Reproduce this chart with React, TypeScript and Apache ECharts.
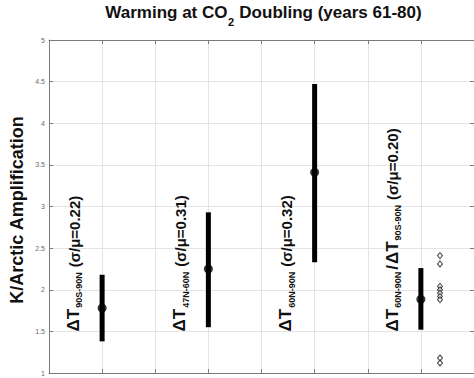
import React, { useEffect, useRef } from "react";
import * as echarts from "echarts";

// ---- data ----
const xPositions = [1, 3, 5, 7];
const means = [1.78, 2.25, 3.41, 1.885];
const lows = [1.38, 1.55, 2.33, 1.52];
const highs = [2.18, 2.93, 4.47, 2.26];
const labelSubscripts = [["90S-90N"], ["47N-60N"], ["60N-90N"], ["60N-90N", "90S-90N"]];
const sigmaOverMu = [0.22, 0.31, 0.32, 0.2];
const diamondX = 7.36;
const diamondValues = [2.41, 2.31, 2.04, 2.0, 1.96, 1.92, 1.88, 1.18, 1.12];
const yTicks = [1, 1.5, 2, 2.5, 3, 3.5, 4, 4.5, 5];
const titleParts = ["Warming at CO", "2", " Doubling (years 61-80)"];
const yName = "K/Arctic Amplification";

const FONT = '"Liberation Sans", Arial, Helvetica, sans-serif';
const W = 474;
const H = 378;

let ctx: CanvasRenderingContext2D | null = null;
function measure(text: string, size: number, weight = "bold") {
  if (!ctx) ctx = document.createElement("canvas").getContext("2d");
  if (!ctx) return text.length * size * 0.55;
  ctx.font = `${weight} ${size}px ${FONT}`;
  return ctx.measureText(text).width;
}

const MAIN = 17;
const SUB = 9;
const PAREN = 15;

function buildSegments(i: number) {
  const segs: { text: string; size: number; dy: number; gap: number }[] = [];
  labelSubscripts[i].forEach((s, k) => {
    if (k > 0) segs.push({ text: "/", size: MAIN, dy: -0.35 * MAIN, gap: 1 });
    segs.push({ text: "ΔT", size: MAIN, dy: -0.35 * MAIN, gap: 1 });
    segs.push({ text: s, size: SUB, dy: 0, gap: 2 });
  });
  segs[segs.length - 1].gap = 5;
  segs.push({ text: `(σ/μ=${sigmaOverMu[i].toFixed(2)})`, size: PAREN, dy: -0.35 * PAREN, gap: 0 });
  return segs;
}

export default function App() {
  const ref = useRef<HTMLDivElement>(null);
  useEffect(() => {
    document.body.style.margin = "0";
    if (!ref.current) return;
    const chart = echarts.init(ref.current, null, { renderer: "svg" });

    const gridLeft = 49;
    const gridTop = 40;
    const gridWidth = 429;
    const gridHeight = 333;

    // title layout
    const tSize = 17;
    const w0 = measure(titleParts[0], tSize);
    const w1 = measure(titleParts[1], 11);
    const w2 = measure(titleParts[2], tSize);
    const total = w0 + w1 + w2 + 1;
    const tStart = gridLeft + gridWidth / 2 - total / 2;
    const tY = 21;

    const axisColor = "#7a7a7a";
    const gridColor = "#e4e4e4";

    chart.setOption({
      animation: false,
      grid: { left: gridLeft, top: gridTop, width: gridWidth, height: gridHeight, containLabel: false },
      xAxis: [
        {
          type: "value", min: 0, max: 8, interval: 1, position: "bottom",
          axisLine: { show: true, lineStyle: { color: axisColor, width: 1 } },
          axisTick: { show: true, inside: true, length: 4, lineStyle: { color: axisColor } },
          axisLabel: { show: false },
          splitLine: { show: true, lineStyle: { color: gridColor, width: 1 } },
        },
        {
          type: "value", min: 0, max: 8, interval: 1, position: "top",
          axisLine: { show: true, onZero: false, lineStyle: { color: axisColor, width: 1 } },
          axisTick: { show: true, inside: true, length: 4, lineStyle: { color: axisColor } },
          axisLabel: { show: false },
          splitLine: { show: false },
        },
      ],
      yAxis: [
        {
          type: "value", min: 1, max: 5, interval: 0.5, position: "left",
          axisLine: { show: true, onZero: false, lineStyle: { color: axisColor, width: 1 } },
          axisTick: { show: true, inside: true, length: 4, lineStyle: { color: axisColor } },
          axisLabel: {
            show: true, fontSize: 7, color: "#6a6a6a", fontFamily: FONT, margin: 4,
            formatter: (v: number) => (yTicks.includes(v) ? String(v) : ""),
          },
          splitLine: { show: true, lineStyle: { color: gridColor, width: 1 } },
        },
        {
          type: "value", min: 1, max: 5, interval: 0.5, position: "right",
          axisLine: { show: true, onZero: false, lineStyle: { color: axisColor, width: 1 } },
          axisTick: { show: true, inside: true, length: 4, lineStyle: { color: axisColor } },
          axisLabel: { show: false },
          splitLine: { show: false },
        },
      ],
      graphic: [
        { type: "text", x: tStart, y: tY, style: { text: titleParts[0], font: `bold ${tSize}px ${FONT}`, fill: "#111", textAlign: "left", textVerticalAlign: "bottom" } },
        { type: "text", x: tStart + w0 + 0.5, y: tY + 6, style: { text: titleParts[1], font: `bold 11px ${FONT}`, fill: "#111", textAlign: "left", textVerticalAlign: "bottom" } },
        { type: "text", x: tStart + w0 + w1 + 1, y: tY, style: { text: titleParts[2], font: `bold ${tSize}px ${FONT}`, fill: "#111", textAlign: "left", textVerticalAlign: "bottom" } },
        { type: "text", x: 17, y: 210, rotation: Math.PI / 2, style: { text: yName, font: `bold 18px ${FONT}`, fill: "#111", textAlign: "center", textVerticalAlign: "middle" } },
      ],
      series: [
        {
          type: "custom",
          name: "range",
          data: xPositions.map((x, i) => [x, lows[i], highs[i]]),
          renderItem: (params: any, api: any) => {
            const p1 = api.coord([api.value(0), api.value(1)]);
            const p2 = api.coord([api.value(0), api.value(2)]);
            return {
              type: "line",
              shape: { x1: p1[0], y1: p1[1], x2: p2[0], y2: p2[1] },
              style: { stroke: "#000", lineWidth: 5, lineCap: "butt" },
            };
          },
          z: 3,
        },
        {
          type: "scatter",
          name: "mean",
          data: xPositions.map((x, i) => [x, means[i]]),
          symbol: "circle",
          symbolSize: 9,
          itemStyle: { color: "#000" },
          z: 4,
        },
        {
          type: "scatter",
          name: "models",
          data: diamondValues.map((v) => [diamondX, v]),
          symbol: "diamond",
          symbolSize: [5, 6],
          itemStyle: { color: "#fff", borderColor: "#222", borderWidth: 1.1 },
          z: 4,
        },
        {
          type: "custom",
          name: "labels",
          data: xPositions.map((x, i) => [x - 0.43, 1.5, i]),
          renderItem: (params: any, api: any) => {
            const i = api.value(2);
            const pt = api.coord([api.value(0), api.value(1)]);
            const segs = buildSegments(i);
            let cx = 0;
            const children: any[] = [];
            segs.forEach((s) => {
              children.push({
                type: "text",
                x: cx,
                y: s.dy,
                style: {
                  text: s.text,
                  font: `bold ${s.size}px ${FONT}`,
                  fill: "#111",
                  textAlign: "left",
                  textVerticalAlign: "middle",
                },
              });
              cx += measure(s.text, s.size) + s.gap;
            });
            return { type: "group", x: pt[0], y: pt[1], rotation: Math.PI / 2, children };
          },
          z: 5,
        },
      ],
    });
    return () => chart.dispose();
  }, []);
  return <div ref={ref} style={{ width: W, height: H }} />;
}
